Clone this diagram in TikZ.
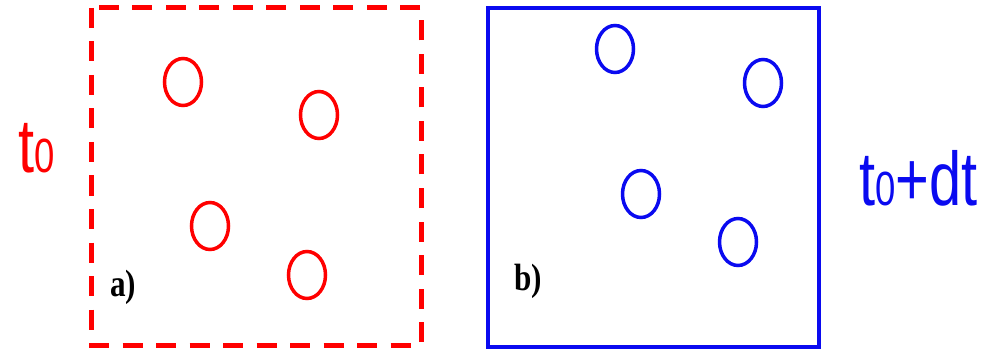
\documentclass[tikz,border=0pt]{standalone}
\usepackage{fontspec}
\setmainfont{Liberation Serif}
\newfontfamily\arialf{Liberation Sans}
\usetikzlibrary{shapes.geometric}
\definecolor{rd}{RGB}{255,0,0}
\definecolor{bl}{RGB}{10,10,240}
\begin{document}
\begin{tikzpicture}[x=1pt,y=-1pt,
  ptcl/.style={draw,ellipse,inner sep=0pt,minimum width=37pt,minimum height=47pt,line width=3.5pt},
  redpt/.style={ptcl,rd},
  bluept/.style={ptcl,bl},
  tlabel/.style={inner sep=0pt,anchor=base west,font=\arialf\fontsize{76}{80}\selectfont,xscale=0.76},
  panel/.style={inner sep=0pt,anchor=base west,font=\bfseries\fontsize{38}{40}\selectfont,xscale=0.82}]
\useasboundingbox (0,0) rectangle (984,358);
% red dashed box
\draw[rd,line width=5pt,dash pattern=on 20pt off 13.5pt] (91,8) rectangle (421,345);
% blue solid box
\draw[bl,line width=4.5pt] (488,8) rectangle (819,347);
% red particles
\node[redpt] (r1) at (183,82) {};
\node[redpt] (r2) at (319,115) {};
\node[redpt] (r3) at (210,226) {};
\node[redpt] (r4) at (307,275) {};
% blue particles
\node[bluept] (b1) at (615,49) {};
\node[bluept] (b2) at (763,83) {};
\node[bluept] (b3) at (641,194) {};
\node[bluept] (b4) at (738,242) {};
% labels
\node[tlabel,rd] (t0) at (18,173) {t{\fontsize{48}{50}\selectfont 0}};
\node[tlabel,bl] (t1) at (859,205) {t{\fontsize{48}{50}\selectfont 0}+dt};
\node[panel] (la) at (110,296) {a)};
\node[panel] (lb) at (514,290) {b)};
\end{tikzpicture}
\end{document}
